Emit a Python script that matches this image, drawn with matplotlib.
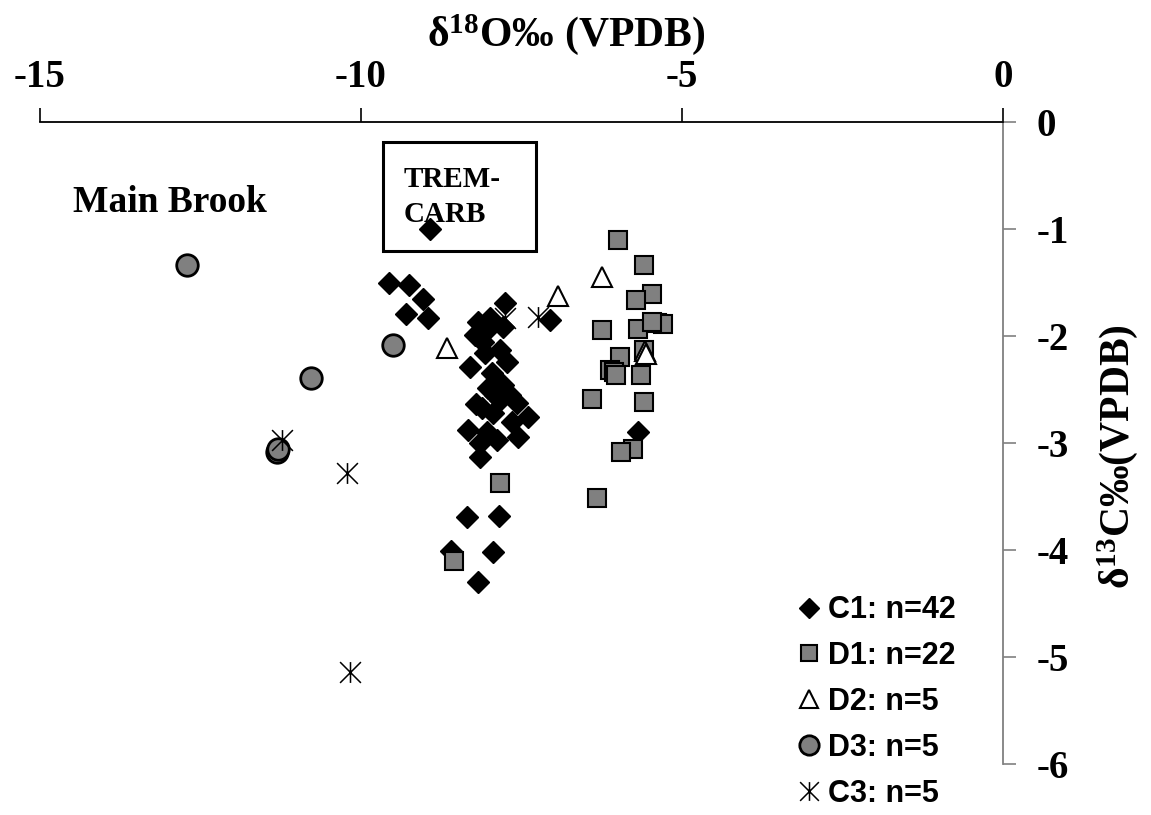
import matplotlib
matplotlib.use("Agg")
import matplotlib.pyplot as plt
from matplotlib.path import Path
from matplotlib.patches import Rectangle

# d18O (x) and d13C (y) values
c1_x = [-8.93, -9.56, -9.25, -9.03, -9.30, -8.96, -7.76, -8.18, -7.99, -7.79,
        -7.99, -8.10, -7.06, -8.07, -8.30, -7.73, -7.96, -7.79, -8.12, -7.94,
        -7.57, -7.40, -7.65, -8.33, -7.55, -8.15, -8.15, -8.35, -7.85, -8.60,
        -7.94, -8.18, -5.69, -7.91, -8.04, -7.84, -8.21, -7.88, -8.22, -7.83,
        -8.02, -7.68]
c1_y = [-1.00, -1.50, -1.52, -1.65, -1.79, -1.83, -1.69, -1.87, -1.92, -1.92,
        -1.83, -2.06, -1.85, -2.16, -2.29, -2.24, -2.35, -2.46, -2.67, -2.72,
        -2.63, -2.76, -2.80, -2.88, -2.94, -3.00, -3.13, -3.69, -3.68, -4.01,
        -4.02, -4.30, -2.90, -2.55, -2.90, -2.60, -2.64, -2.97, -1.99, -2.13,
        -2.49, -2.55]

d1_x = [-6.00, -5.59, -5.47, -5.72, -6.25, -5.69, -5.39, -5.30, -5.59, -5.97,
        -6.12, -6.06, -5.64, -6.40, -5.59, -5.76, -5.95, -6.32, -7.83, -8.55,
        -6.03, -5.47]
d1_y = [-1.10, -1.34, -1.61, -1.66, -1.94, -1.93, -1.88, -1.89, -2.13, -2.20,
        -2.32, -2.34, -2.36, -2.59, -2.62, -3.06, -3.08, -3.51, -3.37, -4.10,
        -2.36, -1.87]

d2_x = [-6.25, -6.93, -8.66, -5.58, -5.56]
d2_y = [-1.45, -1.63, -2.11, -2.14, -2.17]

d3_x = [-12.71, -9.50, -10.78, -11.31, -11.30]
d3_y = [-1.34, -2.08, -2.39, -3.08, -3.06]

c3_x = [-11.23, -10.22, -10.17, -7.24, -7.76]
c3_y = [-2.97, -3.28, -5.14, -1.82, -1.83]

labels = ["C1: n=42", "D1: n=22", "D2: n=5", "D3: n=5", "C3: n=5"]
x_ticks = [-15, -10, -5, 0]
y_ticks = [0, -1, -2, -3, -4, -5, -6]

plt.rcParams["axes.unicode_minus"] = False
plt.rcParams["mathtext.fontset"] = "custom"
plt.rcParams["mathtext.rm"] = "Liberation Serif:bold"
plt.rcParams["mathtext.bf"] = "Liberation Serif:bold"
plt.rcParams["mathtext.it"] = "Liberation Serif:bold"

serif = {"family": "Liberation Serif", "weight": "bold"}

# six-armed asterisk like the spreadsheet marker
star = Path([(0, -1), (0, 1), (-1, -1), (1, 1), (-1, 1), (1, -1)],
            [Path.MOVETO, Path.LINETO] * 3)

fig = plt.figure(figsize=(11.51, 8.15), dpi=100)
ax = fig.add_axes([0.03475, 0.06258, 0.8367, 0.7877])

ax.plot(c1_x, c1_y, "D", ms=11.5, mfc="black", mec="black", label=labels[0])
ax.plot(d1_x, d1_y, "s", ms=13, mfc="#808080", mec="black", mew=1.5, label=labels[1])
ax.plot(d2_x, d2_y, "^", ms=15, mfc="white", mec="black", mew=1.5, label=labels[2])
ax.plot(d3_x, d3_y, "o", ms=15.5, mfc="#808080", mec="black", mew=2, label=labels[3])
ax.plot(c3_x, c3_y, ls="none", marker=star, ms=15, mec="black", mew=1.1, label=labels[4])

ax.set_xlim(-15, 0)
ax.set_ylim(-6, 0)
ax.set_xticks(x_ticks)
ax.set_yticks(y_ticks)
ax.set_xticklabels([str(t) for t in x_ticks], fontdict=serif, fontsize=28)
ax.set_yticklabels([str(t) for t in y_ticks], fontdict=serif, fontsize=28)

for side in ["left", "bottom"]:
    ax.spines[side].set_visible(False)
ax.spines["top"].set_linewidth(1.3)
ax.spines["right"].set_color("#808080")
ax.spines["right"].set_linewidth(1.3)

ax.tick_params(axis="x", top=True, labeltop=True, bottom=False, labelbottom=False,
               direction="out", length=10, width=1.2, pad=9)
ax.tick_params(axis="y", right=True, labelright=True, left=False, labelleft=False,
               direction="out", length=9, width=1.2, color="#808080", pad=15)

fig.text(0.492, 0.958, r"$\mathbf{δ^{18}O‰\ (VPDB)}$", fontsize=30,
         ha="center", va="center")
fig.text(0.971, 0.44, r"$\mathbf{δ^{13}C‰(VPDB)}$", fontsize=30,
         ha="center", va="center", rotation=90)

ax.text(0.034, 0.874, "Main Brook", transform=ax.transAxes, fontdict=serif,
        fontsize=27, va="center")

ax.add_patch(Rectangle((-9.66, -1.21), 2.39, 1.02, fill=False, ec="black", lw=2.2))
ax.text(-9.34, -0.7, "TREM-\nCARB", fontdict=serif, fontsize=21, va="center",
        linespacing=1.35)

leg = ax.legend(loc="upper left", bbox_to_anchor=(781 / 1151, 1 - 580 / 815),
                bbox_transform=fig.transFigure, frameon=False, markerscale=0.9,
                handlelength=0.8, handletextpad=0.25, borderpad=0, labelspacing=0.52,
                prop={"family": "Liberation Sans", "weight": "bold", "size": 22})

fig.savefig("out.png", dpi=100)
